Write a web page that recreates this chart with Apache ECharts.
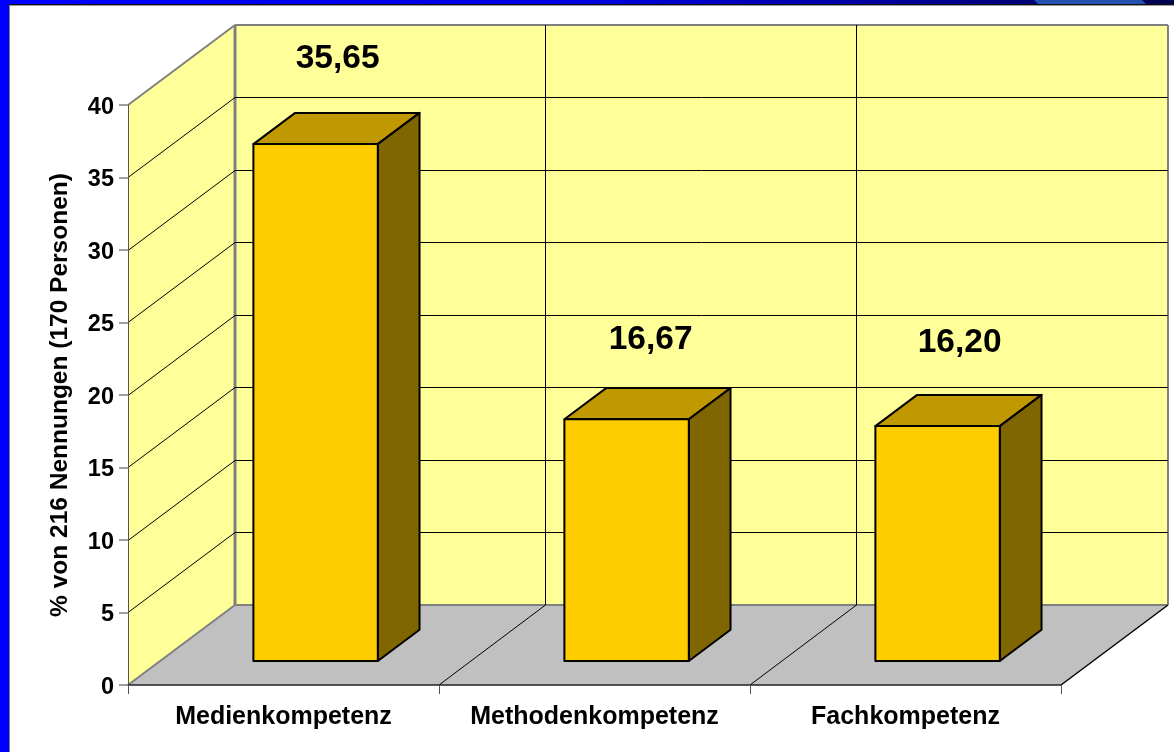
<!DOCTYPE html>
<html>
<head>
<meta charset="utf-8">
<style>
  html, body { margin: 0; padding: 0; background: #fff; }
  #chart { width: 1174px; height: 752px; }
</style>
<script src="https://cdn.jsdelivr.net/npm/echarts@6/dist/echarts.min.js"></script>
</head>
<body>
<div id="chart"></div>
<script>
const categories = ['Medienkompetenz', 'Methodenkompetenz', 'Fachkompetenz'];
const values = [35.65, 16.67, 16.2];
const yTicks = [0, 5, 10, 15, 20, 25, 30, 35, 40];
const yName = '% von 216 Nennungen (170 Personen)';

// 3D look: offset of the back wall from the front plane
const DEPTH_X = 107;
const DEPTH_Y = -80;
const FONT = '"Liberation Sans", Arial, sans-serif';
// hand placed value labels in the original
const labelShift = [[22, -85], [24, -80], [22, -83]];

const chart = echarts.init(document.getElementById('chart'));

function back(p, f) {
  return [p[0] + DEPTH_X * f, p[1] + DEPTH_Y * f];
}

function poly(points, fill, stroke, lineWidth) {
  return {
    type: 'polygon',
    shape: { points },
    style: { fill, stroke: stroke || 'none', lineWidth: lineWidth || 0, lineJoin: 'round' }
  };
}

function line(a, b, stroke, lineWidth) {
  return {
    type: 'line',
    shape: { x1: a[0], y1: a[1], x2: b[0], y2: b[1] },
    style: { stroke, lineWidth: lineWidth || 1 }
  };
}

// walls + floor
function renderRoom(params, api) {
  const cs = params.coordSys;
  const left = cs.x;
  const right = cs.x + cs.width;
  const bottom = api.coord([0, 0])[1];
  const top = api.coord([0, 40])[1];
  const fl = [left, bottom], fr = [right, bottom], tl = [left, top], tr = [right, top];
  return {
    type: 'group',
    children: [
      poly([fl, tl, back(tl, 1), back(fl, 1)], '#ffff99'),
      poly([back(fl, 1), back(tl, 1), back(tr, 1), back(fr, 1)], '#ffff99'),
      poly([fl, back(fl, 1), back(fr, 1), fr], '#c0c0c0'),
      line(tl, back(tl, 1), '#808080', 2),
      line(fl, back(fl, 1), '#808080', 2),
      line(back(fl, 1), back(tl, 1), '#808080', 3),
      line(back(tl, 1), back(tr, 1), '#808080', 2),
      line(back(tr, 1), back(fr, 1), '#808080', 2),
      line(back(fl, 1), back(fr, 1), '#808080', 2),
      line(fr, back(fr, 1), '#000', 1.5)
    ]
  };
}

// horizontal gridlines along side wall and back wall
function renderGrid(params, api) {
  const v = api.value(1);
  const cs = params.coordSys;
  const y = Math.floor(api.coord([0, v])[1]) + 0.5;
  const a = [cs.x, y];
  const b = [cs.x + cs.width, y];
  if (v === 0 || v === 40) return { type: 'group', children: [] };
  return {
    type: 'group',
    children: [line(a, back(a, 1), '#000'), line(back(a, 1), back(b, 1), '#000')]
  };
}

// vertical dividers between the categories
function renderDivider(params, api) {
  const cs = params.coordSys;
  const band = cs.width / categories.length;
  const x = cs.x + band * (api.value(0) + 1);
  const y0 = api.coord([0, 0])[1];
  const y1 = api.coord([0, 40])[1];
  const xBack = Math.floor(back([x, y0], 1)[0]) - 0.5;
  return {
    type: 'group',
    children: [
      line([x, y0], [xBack, y0 + DEPTH_Y], '#000'),
      line([xBack, y0 + DEPTH_Y], [xBack, y1 + DEPTH_Y], '#000')
    ]
  };
}

function renderBar(params, api) {
  const i = api.value(0);
  const val = api.value(1);
  const center = api.coord([i, 0]);
  const topY = api.coord([i, val])[1];
  const halfW = api.size([1, 0])[0] * 0.2;
  const shift = labelShift[i];
  const bl = back([center[0] - halfW, center[1]], 0.3);
  const br = back([center[0] + halfW, center[1]], 0.3);
  const tl = [bl[0], bl[1] - (center[1] - topY)];
  const tr = [br[0], tl[1]];
  return {
    type: 'group',
    children: [
      poly([tl, tr, back(tr, 0.39), back(tl, 0.39)], '#c09900', '#000', 2),
      poly([br, tr, back(tr, 0.39), back(br, 0.39)], '#806600', '#000', 2),
      poly([bl, tl, tr, br], '#ffcc00', '#000', 2),
      {
        type: 'text',
        style: {
          x: (bl[0] + br[0]) / 2 + shift[0],
          y: tl[1] + shift[1],
          text: val.toFixed(2).replace('.', ','),
          font: 'bold 33.5px ' + FONT,
          fill: '#000',
          align: 'center',
          verticalAlign: 'middle'
        }
      }
    ]
  };
}

const option = {
  animation: false,
  backgroundColor: '#fff',
  grid: { left: 128, right: 113, top: 105, bottom: 67 },
  xAxis: {
    type: 'category',
    data: categories,
    z: 10,
    axisLine: { lineStyle: { color: '#222', width: 1.5 } },
    axisTick: { show: true, interval: 0, length: 9, lineStyle: { color: '#555' } },
    axisLabel: { color: '#000', fontFamily: FONT, fontWeight: 'bold', fontSize: 25, margin: 20, interval: 0 }
  },
  yAxis: {
    type: 'value',
    min: 0,
    max: 40,
    interval: 5,
    z: 10,
    name: yName,
    nameLocation: 'middle',
    nameGap: 55,
    nameTextStyle: { color: '#000', fontFamily: FONT, fontWeight: 'bold', fontSize: 24.5 },
    axisLine: { show: true, lineStyle: { color: '#555', width: 1 } },
    axisTick: { show: true, length: 9, lineStyle: { color: '#808080', width: 1.5 } },
    axisLabel: {
      margin: 14,
      formatter: '{v|{value}}',
      rich: {
        v: {
          color: '#000', fontFamily: FONT, fontWeight: 'bold', fontSize: 23.5,
          padding: [5, 0, 0, 0]
        }
      }
    },
    splitLine: { show: false }
  },
  graphic: [
    { type: 'rect', shape: { x: 0, y: 0, width: 1174, height: 4 }, style: {
      fill: { type: 'linear', x: 0, y: 0, x2: 1, y2: 0, colorStops: [
        { offset: 0, color: '#0000ff' }, { offset: 0.5, color: '#0000e0' },
        { offset: 0.8, color: '#000090' }, { offset: 1, color: '#000050' }
      ] } } },
    { type: 'polygon', shape: { points: [[1034, 0], [1142, 0], [1146, 4], [1038, 4]] }, style: { fill: '#2450b0' } },
    { type: 'rect', shape: { x: 0, y: 4, width: 1174, height: 1 }, style: { fill: '#111' } },
    { type: 'rect', shape: { x: 10, y: 5, width: 1164, height: 1 }, style: { fill: '#999' } },
    { type: 'rect', shape: { x: 0, y: 0, width: 9, height: 752 }, style: { fill: '#0000ff' } },
    { type: 'rect', shape: { x: 9, y: 5, width: 1, height: 747 }, style: { fill: '#808080' } }
  ],
  series: [
    { type: 'custom', z: 1, renderItem: renderRoom, data: [[0, 0]], silent: true },
    { type: 'custom', z: 2, renderItem: renderGrid, data: yTicks.map((v, i) => [i, v]), silent: true },
    { type: 'custom', z: 3, renderItem: renderDivider, data: [[0, 0], [1, 0]], silent: true },
    {
      type: 'custom',
      z: 4,
      renderItem: renderBar,
      encode: { x: 0, y: 1 },
      data: values.map((v, i) => [i, v]),
      silent: true
    }
  ]
};
chart.setOption(option);
</script>
</body>
</html>
